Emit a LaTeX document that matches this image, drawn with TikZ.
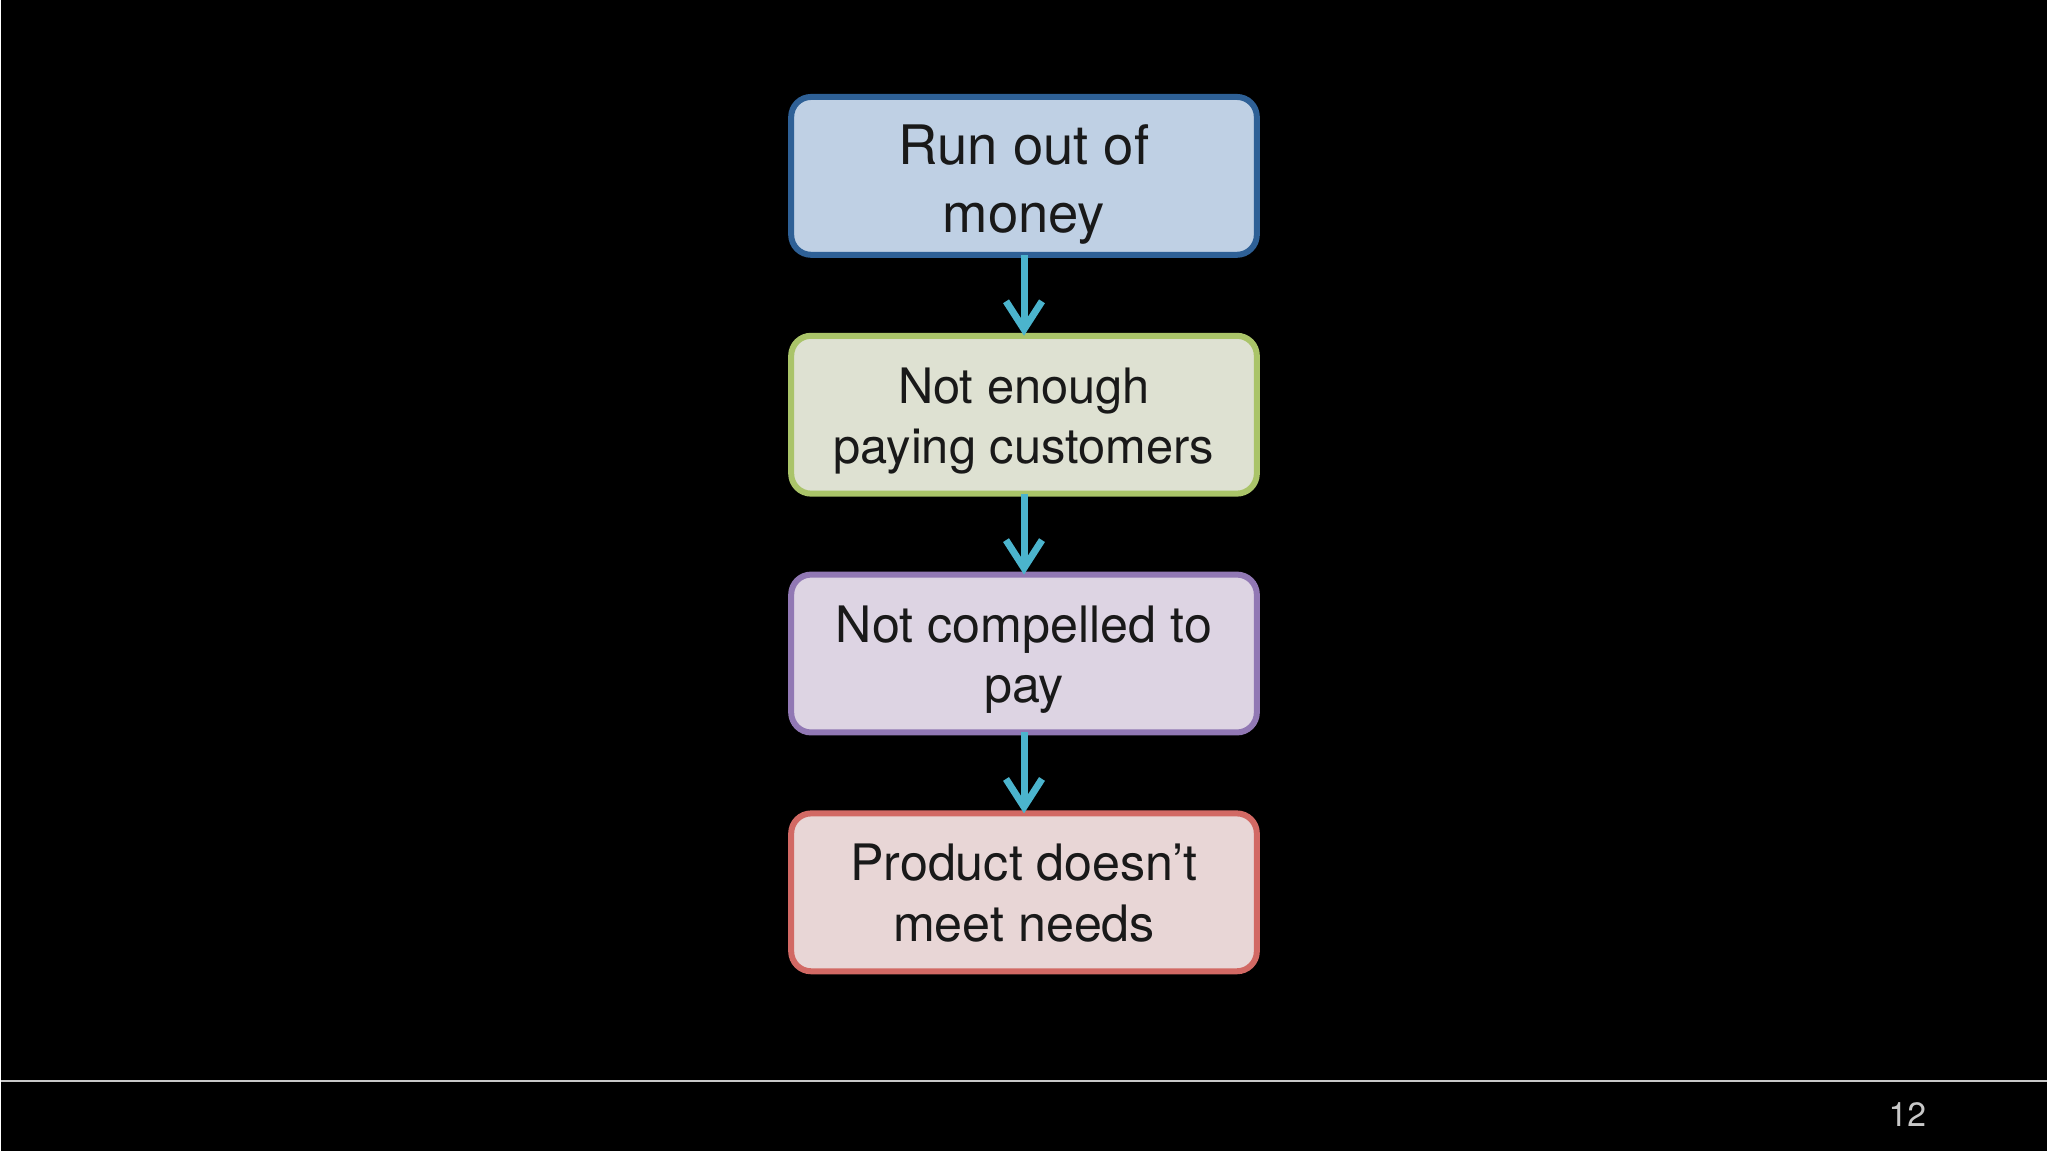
\documentclass[tikz,border=0pt]{standalone}
\usepackage{fontspec}
\setmainfont{TeX Gyre Heros}
\usetikzlibrary{positioning,arrows.meta}
\definecolor{fillblue}{RGB}{191,208,228}
\definecolor{lineblue}{RGB}{46,96,150}
\definecolor{fillgreen}{RGB}{222,225,210}
\definecolor{linegreen}{RGB}{170,196,105}
\definecolor{fillpurple}{RGB}{221,212,227}
\definecolor{linepurple}{RGB}{145,120,180}
\definecolor{fillred}{RGB}{232,214,214}
\definecolor{linered}{RGB}{210,105,100}
\definecolor{flowcyan}{RGB}{75,180,205}
\definecolor{rulegray}{RGB}{200,200,200}
\tikzset{
    node distance=0.81cm, % gap between two boxes
    box/.style={draw, line width=0.06cm, rounded corners=0.2cm,
        minimum width=4.66cm, minimum height=1.58cm, inner ysep=0.1cm,
        align=center, outer sep=0pt, text=black!90,
        text height=1.0cm, text depth=0.02cm}, % one step of the chain, last baseline below centre
    flow/.style={draw=flowcyan, line width=0.07cm,
        -{Straight Barb[length=0.28cm,width=0.36cm]}}, % cyan arrow
}

\begin{document}
\begin{tikzpicture}[]
  % slide background
  \fill[black] (0,0) rectangle (20.48,-11.52);

  \node[box, draw=lineblue, fill=fillblue, text height=1.16cm,
      font=\fontsize{15.5}{19.4}\selectfont] (b_0) at (10.24,-1.76) {Run out of\\money};
  \node[box, draw=linegreen, fill=fillgreen,
      font=\fontsize{13.9}{17}\selectfont] (b_1) [below=of b_0] {Not enough\\paying customers};
  \node[box, draw=linepurple, fill=fillpurple,
      font=\fontsize{14.3}{17.2}\selectfont] (b_2) [below=of b_1] {Not compelled to\\pay};
  \node[box, draw=linered, fill=fillred,
      font=\fontsize{14.3}{17.2}\selectfont] (b_3) [below=of b_2] {Product doesn’t\\meet needs};
  \path[flow]
    (b_0) edge (b_1)
    (b_1) edge (b_2)
    (b_2) edge (b_3);

  % footer
  \coordinate (r_l) at (0,-10.82);
  \coordinate (r_r) at (20.48,-10.82);
  \draw[rulegray, line width=0.015cm] (r_l) -- (r_r);
  \node[text=rulegray, font=\fontsize{9.6}{11}\selectfont] (num) at (19.08,-11.15) {12};
\end{tikzpicture}
\end{document}
